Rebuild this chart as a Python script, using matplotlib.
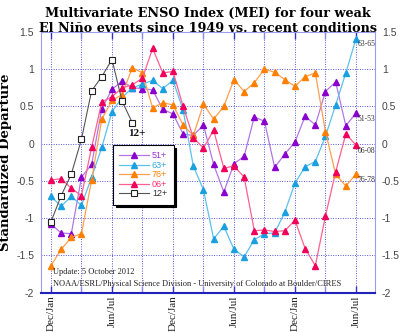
import numpy as np
import matplotlib.pyplot as plt

plt.rcParams['axes.unicode_minus'] = False

# bimonthly MEI values, Dec/Jan of year 0 through Jun/Jul of year 2
mei_51 = [-1.08, -1.20, -1.21, -0.45, -0.28, 0.47, 0.73, 0.84, 0.75, 0.74, 0.72,
          0.46, 0.40, 0.13, 0.11, 0.25, -0.28, -0.65, -0.27, -0.17, 0.36, 0.30,
          -0.32, -0.14, 0.02, 0.37, 0.25, 0.70, 0.83, 0.24, 0.41]
mei_63 = [-0.71, -0.84, -0.71, -0.83, -0.45, -0.05, 0.43, 0.62, 0.75, 0.80, 0.85,
          0.74, 0.85, 0.45, -0.30, -0.62, -1.28, -1.11, -1.42, -1.52, -1.29, -1.21,
          -1.20, -0.92, -0.53, -0.31, -0.24, 0.10, 0.52, 0.95, 1.41]
mei_76 = [-1.64, -1.42, -1.26, -1.21, -0.49, 0.33, 0.58, 0.66, 1.02, 0.95, 0.48,
          0.55, 0.52, 0.25, 0.11, 0.53, 0.33, 0.50, 0.86, 0.70, 0.82, 1.00,
          0.96, 0.86, 0.77, 0.90, 0.95, 0.16, -0.41, -0.57, -0.41]
mei_06 = [-0.49, -0.47, -0.60, -0.70, -0.05, 0.56, 0.63, 0.75, 0.79, 0.88, 1.28,
          0.95, 0.97, 0.50, 0.08, -0.06, 0.18, -0.33, -0.30, -0.45, -1.17, -1.16,
          -1.18, -1.17, -1.03, -1.41, -1.64, -0.97, -0.38, 0.13, -0.02]
mei_12 = [-1.05, -0.70, -0.41, 0.06, 0.71, 0.90, 1.13, 0.57, 0.28]

season_labels = ['Dec/Jan', 'Jun/Jul', 'Dec/Jan', 'Jun/Jul', 'Dec/Jan', 'Jun/Jul']
legend_labels = ['51+', '63+', '76+', '06+', '12+']
end_labels = ['51-53', '63-65', '76-78', '06-08']

marker_cols = ['#8a00cc', '#1aa0e0', '#ff7f00', '#f0005a']
line_cols = ['#b277e3', '#5cc0ee', '#ffa050', '#ff6090']
text_cols = ['#9933cc', '#33aadd', '#ff8000', '#ff3070', '#333333']

fig = plt.figure(figsize=(4, 3.33), dpi=100)
ax = fig.add_axes([0.1025, 0.1216, 0.835, 0.7823])

series = [mei_51, mei_63, mei_76, mei_06]
for vals, mc, lc, lab in zip(series, marker_cols, line_cols, legend_labels):
    x = np.arange(len(vals))
    ax.plot(x, vals, color=lc, lw=0.9, marker='^', ms=4, mfc=mc, mec=mc,
            label=lab, zorder=3)

x12 = np.arange(len(mei_12))
ax.plot(x12, mei_12, color='#555555', lw=0.8, marker='s', ms=4.5, mfc='white',
        mec='#222222', mew=0.8, label=legend_labels[4], zorder=4)
ax.annotate('12+', (x12[-1], mei_12[-1]), xytext=(3, -8), textcoords='offset points',
            ha='center', va='center', fontsize=8, family='Liberation Serif',
            fontweight='bold', color='#111111')

# period labels at the right-hand end of each line
for vals, lab in zip(series, end_labels):
    ax.annotate(lab, (len(vals) - 1, vals[-1]), xytext=(1, -4),
                textcoords='offset points', ha='left', va='center',
                fontsize=5.5, family='Liberation Serif', color='#333333')

ax.set_xlim(-0.98, 31.87)
ax.set_ylim(-2, 1.5)

ax.set_xticks(np.arange(0, 31, 6))
ax.set_xticklabels(season_labels, rotation=90, family='Liberation Serif',
                   fontsize=8, color='#222222')
ax.set_xticks(np.arange(3, 31, 6), minor=True)
ax.set_yticks([-2, -1.5, -1, -0.5, 0, 0.5, 1, 1.5])
ax.set_yticklabels(['-2', '-1.5', '-1', '-0.5', '0', '0.5', '1', '1.5'])
ax.tick_params(axis='y', length=0, pad=5, labelsize=7.5, labelcolor='#444444',
               right=True, labelright=True)
for t in ax.get_yticklabels():
    t.set_family('Liberation Sans')
ax.tick_params(axis='x', which='both', direction='in', top=True, length=5,
               width=1, color='#3333cc', pad=2)
ax.tick_params(axis='x', which='minor', color='#8888ee')

ax.grid(True, which='both', color='#5555dd', ls=(0, (1, 1.5)), lw=0.7)
ax.set_axisbelow(True)
for side in ['left', 'right', 'top']:
    ax.spines[side].set_color('#9a9aee')
ax.spines['bottom'].set_color('#2222bb')
ax.spines['bottom'].set_linewidth(1.5)

ax.set_ylabel('Standardized Departure', family='DejaVu Serif', fontweight='bold',
              fontsize=9.5)
ax.yaxis.set_label_coords(-0.088, 0.5)

leg = ax.legend(loc='upper left', bbox_to_anchor=(0.216, 0.566), borderaxespad=0,
                fontsize=6.5, frameon=True, fancybox=False, edgecolor='black',
                framealpha=1, labelspacing=0.05, handlelength=3.3,
                handletextpad=0.3, borderpad=0.7,
                shadow={'color': 'black', 'alpha': 1})
leg.get_frame().set_linewidth(0.8)
for txt, c in zip(leg.get_texts(), text_cols):
    txt.set_color(c)
    txt.set_family('Liberation Sans')

ax.text(0.036, 0.07, 'Update: 5 October 2012', transform=ax.transAxes,
        fontsize=6, family='Liberation Serif', color='#222222')
ax.text(0.036, 0.025,
        'NOAA/ESRL/Physical Science Division - University of Colorado at Boulder/CIRES',
        transform=ax.transAxes, fontsize=6, family='Liberation Serif', color='#222222')

fig.text(0.52, 0.978, 'Multivariate ENSO Index (MEI) for four weak\n'
         'El Ni\u00f1o events since 1949 vs. recent conditions',
         ha='center', va='top', family='DejaVu Serif', fontweight='bold',
         fontsize=9.2, linespacing=1.2)

fig.savefig('out.png', dpi=100)
